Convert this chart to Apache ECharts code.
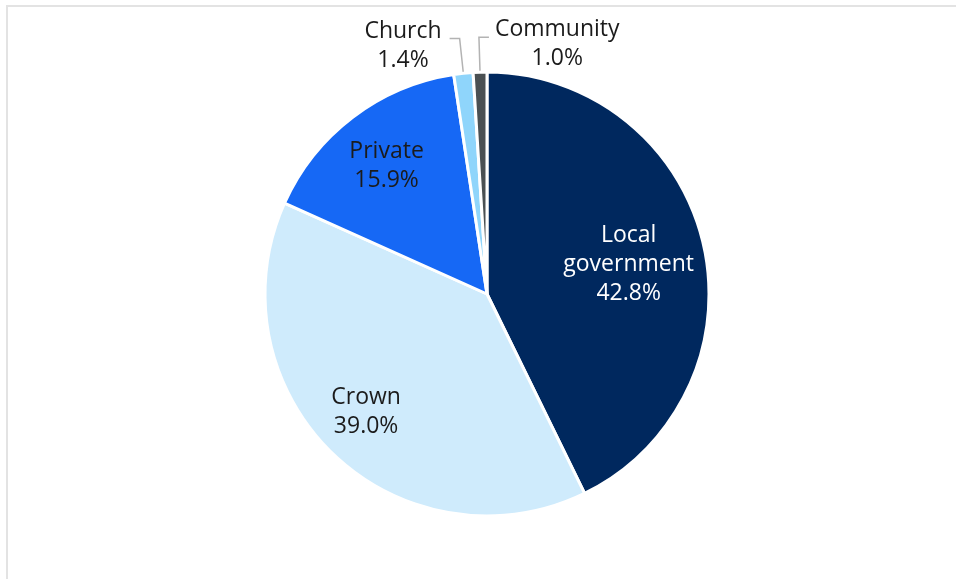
<!DOCTYPE html>
<html>
<head>
<meta charset="utf-8">
<script src="https://cdn.jsdelivr.net/npm/echarts@6/dist/echarts.min.js"></script>
<style>
  html, body { margin: 0; padding: 0; background: #ffffff; }
  #chart { width: 956px; height: 579px; }
</style>
</head>
<body>
<div id="chart"></div>
<script>
// Land ownership shares
const categories = ['Local government', 'Crown', 'Private', 'Church', 'Community'];
const shares = [42.8, 39.0, 15.9, 1.4, 1.0];
const labelNames = ['Local\ngovernment', 'Crown', 'Private', 'Church', 'Community'];
const sliceColors = ['#00285e', '#cfebfc', '#1668f5', '#8fd5fb', '#4a5053'];
const textColors = ['#ffffff', '#1b1b1b', '#1b1b1b', '#1b1b1b', '#1b1b1b'];
// Label placement per slice: ring names sit inside the slice, 'outside' uses a leader line
const labelPlacement = ['deep', 'shallow', 'mid', 'outside', 'outside'];

const CENTER = [487, 294];
const R = 222;
// invisible label rings: inner radius (labels sit half-way to R) and a small text nudge
const labelRings = {
  deep:    { inner: 69,  dx: -3, dy: 4 },
  mid:     { inner: 104, dx: 0,  dy: 4 },
  shallow: { inner: 114, dx: -2, dy: -5 }
};
const FONT = '"Open Sans", "Noto Sans", sans-serif';

const fmt = p => labelNames[p.dataIndex] + '\n' + p.value.toFixed(1) + '%';

function sliceData(showFor, filled) {
  return categories.map((name, i) => ({
    name,
    value: shares[i],
    itemStyle: filled
      ? { color: sliceColors[i] }
      : { color: 'rgba(0,0,0,0)', borderWidth: 0 },
    label: {
      show: labelPlacement[i] === showFor,
      color: textColors[i]
    }
  }));
}

const labelStyle = {
  fontFamily: FONT,
  fontSize: 23,
  lineHeight: 29,
  formatter: fmt
};

const series = [
  {
    // slices + outside labels for the thin slices
    type: 'pie',
    center: CENTER,
    radius: [0, R],
    startAngle: 90,
    clockwise: true,
    avoidLabelOverlap: false,
    itemStyle: { borderColor: '#ffffff', borderWidth: 3 },
    label: Object.assign({ position: 'outside', align: 'center' }, labelStyle),
    labelLine: {
      show: true,
      length: 35,
      length2: 10,
      smooth: false,
      lineStyle: { color: '#b3b3b3', width: 1.5 }
    },
    labelLayout: function (params) {
      const i = params.dataIndex;
      if (labelPlacement[i] !== 'outside' || !params.labelLinePoints) return;
      const pts = params.labelLinePoints.map(p => [p[0], p[1]]);
      const run = Math.abs(pts[1][0] - pts[2][0]);
      // keep the elbow to the left for the first thin slice, mirror it for the next
      const toRight = categories[i] === 'Community';
      pts[2][0] = pts[1][0] + (toRight ? run : -run);
      const halfW = params.labelRect.width / 2;
      return {
        x: toRight ? pts[2][0] + 6 + halfW : pts[2][0] - 8 - halfW,
        y: pts[2][1] + 7,
        align: 'center',
        verticalAlign: 'middle',
        labelLinePoints: pts
      };
    },
    data: sliceData('outside', true),
    silent: true
  }
];

// invisible rings that only carry the inside labels
Object.keys(labelRings).forEach(ring => {
  const cfg = labelRings[ring];
  series.push({
    type: 'pie',
    center: CENTER,
    radius: [cfg.inner, R],
    startAngle: 90,
    clockwise: true,
    label: Object.assign({ position: 'inside' }, labelStyle),
    labelLine: { show: false },
    labelLayout: function (params) {
      const r = params.labelRect;
      return {
        x: r.x + r.width / 2 + cfg.dx,
        y: r.y + r.height / 2 + cfg.dy,
        align: 'center',
        verticalAlign: 'middle'
      };
    },
    data: sliceData(ring, false),
    silent: true,
    z: 3
  });
});

const chart = echarts.init(document.getElementById('chart'), null, { renderer: 'canvas' });

chart.setOption({
  backgroundColor: '#ffffff',
  animation: false,
  graphic: [{
    type: 'rect',
    shape: { x: 7, y: 6, width: 1200, height: 1000 },
    style: { fill: 'none', stroke: '#e3e3e3', lineWidth: 2 },
    silent: true
  }],
  series
});
</script>
</body>
</html>
